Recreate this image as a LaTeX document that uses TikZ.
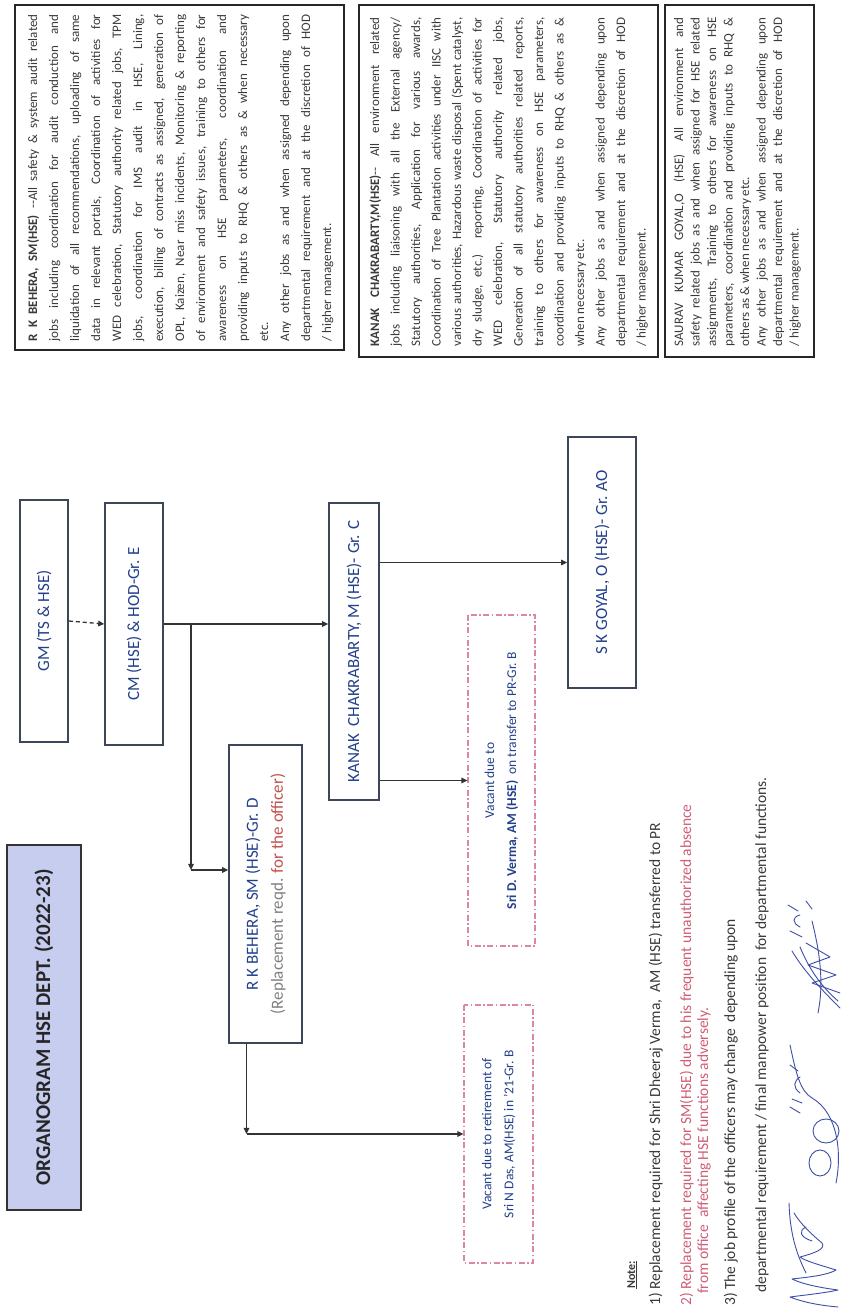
\documentclass[tikz,border=0pt]{standalone}
\usepackage{fontspec}
\setmainfont{Carlito}
\usetikzlibrary{arrows.meta,calc}
\definecolor{lblue}{HTML}{23408C}
\definecolor{bord}{HTML}{3B4658}
\definecolor{pinkd}{HTML}{D9899B}
\definecolor{txt}{HTML}{3A3A3A}
\definecolor{notered}{HTML}{CF5F78}
\definecolor{titlefill}{HTML}{C6CDEE}
\definecolor{sigblue}{HTML}{3E4FA8}
\definecolor{grayt}{HTML}{808080}
\definecolor{redt}{HTML}{C0504D}
\newcommand\fs[2]{\fontsize{#1}{#2}\selectfont}
\newcommand\jl[1]{\hbox to \hsize{\spaceskip=.226em plus 2em minus .07em\relax #1}}
\newcommand\rl[1]{\hbox to \hsize{#1\hfil}}
\tikzset{
  orgbox/.style={draw=bord, line width=1.6pt, fill=white, inner sep=0pt, text=lblue, font=\fs{17}{25}, align=center},
  vacbox/.style={draw=pinkd, line width=1.2pt, dash pattern=on 6pt off 2.5pt on 1.5pt off 2.5pt, inner sep=0pt, text=lblue, font=\fs{13.5}{22}, align=center},
  titlebox/.style={draw=black!80, line width=1.8pt, fill=titlefill, inner sep=0pt, text=black!85, font=\fs{21}{25}\bfseries},
  tbox/.style={draw=black!85, line width=1.4pt, inner sep=0pt},
  tblock/.style={anchor=north west, inner sep=0pt, text=txt},
  conn/.style={draw=black!80, line width=1.3pt},
  arr/.style={conn, -{Triangle[length=6pt,width=5.5pt]}},
  notetext/.style={anchor=base west, inner sep=0pt, text=txt, font=\fs{15.5}{18}},
  sigpen/.style={draw=sigblue, line width=0.9pt, line cap=round, line join=round}
}
\begin{document}
\begin{tikzpicture}[x=1pt,y=1pt]
\begin{scope}[rotate=90, transform shape]
\fill[white] (0,0) rectangle (1313,-842);
\path[use as bounding box] (0,0) rectangle (1313,-842);

% title
\node[titlebox, minimum width=365pt, minimum height=74pt] (title) at (285.5,-44) {ORGANOGRAM HSE DEPT. (2022-23)};

% org chart boxes
\node[orgbox, minimum width=242pt, minimum height=48pt] (gm) at (692,-44) {GM (TS \& HSE)};
\node[orgbox, minimum width=242pt, minimum height=58pt] (cm) at (689,-134) {CM (HSE) \& HOD-Gr. E};
\node[orgbox, minimum width=297pt, minimum height=50pt] (kanak) at (661.5,-354) {KANAK\ \ CHAKRABARTY, M (HSE)- Gr. C};
\node[orgbox, minimum width=298pt, minimum height=73pt] (rkb) at (419,-265.5) {R K BEHERA, SM (HSE)-Gr. D\\{\color{grayt}(Replacement reqd.} {\color{redt}for the officer)}};
\node[orgbox, minimum width=251pt, minimum height=68pt] (goyal) at (750.5,-602) {S K GOYAL, O (HSE)- Gr. AO};
\node[vacbox, minimum width=331pt, minimum height=67pt] (vacd) at (532.5,-501.5) {Vacant due to\\\textbf{Sri D. Verma, AM (HSE)}\ \ on transfer to PR-Gr. B};
\node[vacbox, minimum width=258pt, minimum height=69pt] (vacn) at (179,-498.5) {Vacant due to retirement of\\Sri N Das, AM(HSE) in ’21-Gr. B};

% connectors
\draw[arr, dash pattern=on 4pt off 3pt] (gm.south) -- (cm.north);
\draw[arr] (cm.south) -- (cm.south |- kanak.north);
\coordinate (br) at (689,-191);
\coordinate (bc) at (443,-191);
\draw[arr] (br) -- (bc);
\draw[arr] (bc) -- (bc |- rkb.north);
\draw[arr] (kanak.south -| goyal.north) -- (goyal.north);
\draw[arr] (kanak.south -| vacd.north) -- (vacd.north);
\coordinate (rw) at ([yshift=19pt]rkb.west);
\coordinate (nc) at (vacn.north |- rw);
\draw[arr] (rw) -- (nc);
\draw[arr] (nc) -- (vacn.north);

% job description boxes
\node[tbox, minimum width=345pt, minimum height=329pt] (rkbt) at (1135.5,-179.5) {};
\node[tbox, minimum width=352pt, minimum height=299pt] (kant) at (1132,-508.5) {};
\node[tbox, minimum width=352pt, minimum height=149pt] (saut) at (1132,-739.5) {};

\node[tblock] (rkbtx) at ([xshift=9pt,yshift=-13pt]rkbt.north west) {\vbox{\hsize=327pt \fs{13}{21}
\jl{\textbf{R K BEHERA, SM(HSE)} -{}-All safety \& system audit related}
\jl{jobs including coordination for audit conduction and}
\jl{liquidation of all recommendations, uploading of same}
\jl{data in relevant portals, Coordination of activities for}
\jl{WED celebration, Statutory authority related jobs, TPM}
\jl{jobs, coordination for IMS audit in HSE, Lining,}
\jl{execution, billing of contracts as assigned, generation of}
\jl{OPL, Kaizen, Near miss incidents, Monitoring \& reporting}
\jl{of environment and safety issues, training to others for}
\jl{awareness on HSE parameters, coordination and}
\jl{providing inputs to RHQ \& others as \& when necessary}
\rl{etc.}
\jl{Any other jobs as and when assigned depending upon}
\jl{departmental requirement and at the discretion of HOD}
\rl{/ higher management.}}};

\node[tblock] (kantx) at ([xshift=11pt,yshift=-11pt]kant.north west) {\vbox{\hsize=329pt \fs{13}{20.5}
\jl{\textbf{KANAK CHAKRABARTY,M(HSE)}-{}- All environment related}
\jl{jobs including liaisoning with all the External agency/}
\jl{Statutory authorities, Application for various awards,}
\jl{Coordination of Tree Plantation activities under IISC with}
\jl{various authorities, Hazardous waste disposal (Spent catalyst,}
\jl{dry sludge, etc.) reporting, Coordination of activities for}
\jl{WED celebration, Statutory authority related jobs,}
\jl{Generation of all statutory authorities related reports,}
\jl{training to others for awareness on HSE parameters,}
\jl{coordination and providing inputs to RHQ \& others as \&}
\rl{when necessary etc.}
\jl{Any other jobs as and when assigned depending upon}
\jl{departmental requirement and at the discretion of HOD}
\rl{/ higher management.}}};

\node[tblock] (sautx) at ([xshift=11pt,yshift=-9pt]saut.north west) {\vbox{\hsize=329pt \fs{13}{16.5}
\jl{SAURAV KUMAR GOYAL,O (HSE)\quad All environment and}
\jl{safety related jobs as and when assigned for HSE related}
\jl{assignments, Training to others for awareness on HSE}
\jl{parameters, coordination and providing inputs to RHQ \&}
\rl{others as \& when necessary etc.}
\jl{Any other jobs as and when assigned depending upon}
\jl{departmental requirement and at the discretion of HOD}
\rl{/ higher management.}}};

% notes
\node[notetext, font=\fs{12}{14}\bfseries] (n0) at (24,-635) {\underline{Note:}};
\node[notetext] (n1) at (7,-660) {1) Replacement required for Shri Dheeraj Verma,\ \ AM (HSE) transferred to PR};
\node[notetext, text=notered] (n2) at (7,-691) {2) Replacement required for SM(HSE) due to his frequent unauthorized absence};
\node[notetext, text=notered] (n2b) at (19,-708) {from office\ \ affecting HSE functions adversely.};
\node[notetext] (n3) at (7,-735) {3) The job profile of the officers may change\ \ depending upon};
\node[notetext] (n3b) at (20,-766) {departmental requirement / final manpower position\ \ for departmental functions.};

% signatures
\draw[sigpen] (6,-838) .. controls (8,-815) and (12,-800) .. (16,-790) .. controls (18,-805) and (20,-825) .. (23,-838)
  .. controls (26,-815) and (30,-800) .. (34,-792) .. controls (36,-810) and (38,-828) .. (43,-836)
  .. controls (48,-820) and (52,-805) .. (56,-800) .. controls (60,-815) and (64,-826) .. (70,-822)
  .. controls (80,-810) and (90,-800) .. (100,-794);
\draw[sigpen] (40,-806) .. controls (60,-796) and (80,-790) .. (110,-789);
\draw[sigpen] (72,-812) .. controls (76,-800) and (82,-798) .. (86,-806);
\draw[sigpen] (150,-820) ellipse (13 and 11);
\draw[sigpen] (182,-826) ellipse (12 and 13);
\draw[sigpen] (130,-836) .. controls (160,-842) and (200,-838) .. (215,-812) .. controls (222,-800) and (240,-796) .. (268,-790);
\draw[sigpen] (200,-800) -- (206,-790) (210,-802) -- (214,-792) (220,-800) .. controls (226,-792) and (232,-794) .. (236,-800) (242,-798) -- (248,-790);
\draw[sigpen] (305,-840) .. controls (320,-825) and (340,-805) .. (362,-792);
\draw[sigpen] (312,-838) .. controls (326,-822) and (342,-810) .. (366,-800);
\draw[sigpen] (320,-840) -- (330,-812) -- (338,-836) -- (348,-808) -- (356,-830) -- (370,-806);
\draw[sigpen] (300,-818) .. controls (330,-824) and (360,-820) .. (392,-812);
\draw[sigpen] (376,-802) -- (382,-790) (386,-800) .. controls (390,-792) and (396,-792) .. (398,-800) (402,-798) -- (408,-788) (404,-812) -- (412,-806);
\end{scope}
\end{tikzpicture}
\end{document}
